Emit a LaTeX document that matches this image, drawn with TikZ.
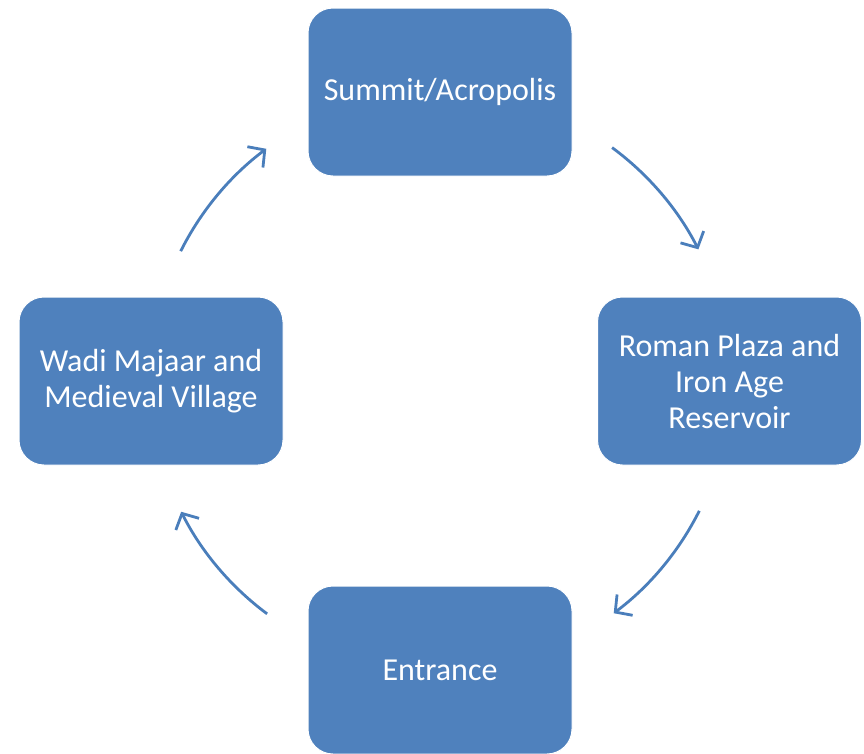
\documentclass[tikz,border=0pt]{standalone}
\usepackage{fontspec}
\setmainfont{Carlito}
\usetikzlibrary{arrows.meta,calc}
\definecolor{boxblue}{HTML}{4F81BD}
\definecolor{arrblue}{HTML}{4A7EBB}
\begin{document}
\begin{tikzpicture}[x=1pt,y=1pt,
  stage/.style={rectangle, rounded corners=25pt, fill=boxblue, draw=white, line width=1pt,
    minimum width=264pt, minimum height=168pt, text=white, align=center,
    font=\fontsize{32}{36}\selectfont, inner sep=4pt},
  cyc/.style={draw=arrblue, line width=2.8pt, -{Straight Barb[length=12pt, width=26pt, line width=2.8pt]}}]
\useasboundingbox (0,0) rectangle (864,-753);
\node[stage] (top) at (440,-92) {Summit/Acropolis};
\node[stage] (right) at (729.5,-381) {Roman Plaza and\\Iron Age\\Reservoir};
\node[stage] (bottom) at (440,-670) {Entrance};
\node[stage] (left) at (151,-381) {Wadi Majaar and\\Medieval Village};
\coordinate (c) at (440,-381);
\draw[cyc] ($(c)+(53.6:290pt)$) arc[start angle=53.6, end angle=27, radius=290pt];
\draw[cyc] ($(c)+(-26.6:290pt)$) arc[start angle=-26.6, end angle=-53.2, radius=290pt];
\draw[cyc] ($(c)+(-126.6:290pt)$) arc[start angle=-126.6, end angle=-153.2, radius=290pt];
\draw[cyc] ($(c)+(153.4:290pt)$) arc[start angle=153.4, end angle=126.8, radius=290pt];
\end{tikzpicture}
\end{document}
